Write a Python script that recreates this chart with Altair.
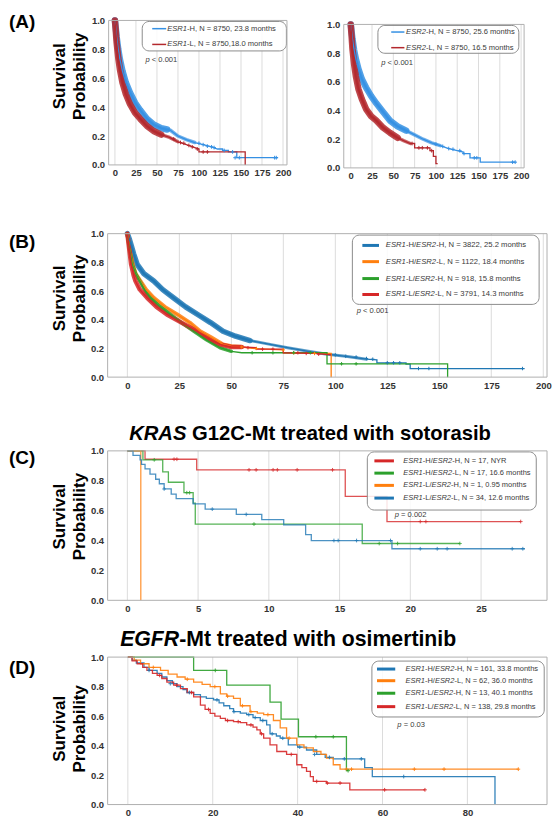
import re
import altair as alt
import pandas as pd

FONT = "Liberation Sans"

# ================= DATA =================
# (A) left : ESR1-H / ESR1-L   (months, survival probability)
A1_H_t = [0, 1, 2, 4, 6, 9, 13, 18, 24, 30, 38, 46, 55, 62, 66, 75, 85, 95, 105, 115, 122, 128, 128, 135, 135, 145, 145, 194]
A1_H_s = [1.0, 0.95, 0.89, 0.80, 0.73, 0.65, 0.57, 0.50, 0.43, 0.38, 0.32, 0.28, 0.255, 0.245, 0.24, 0.20, 0.175, 0.155, 0.14, 0.125, 0.11, 0.11, 0.10, 0.10, 0.09, 0.09, 0.05, 0.05]
A1_L_t = [0, 1, 2, 4, 6, 9, 13, 18, 24, 30, 38, 46, 55, 65, 75, 85, 95, 100, 100, 155, 155]
A1_L_s = [1.0, 0.93, 0.85, 0.74, 0.66, 0.57, 0.49, 0.42, 0.36, 0.32, 0.27, 0.235, 0.21, 0.19, 0.16, 0.14, 0.12, 0.11, 0.09, 0.09, 0.0]
A1_H_ct = [100, 105, 110, 115, 118, 130, 140, 143, 148, 190, 192]
A1_H_cs = [0.15, 0.14, 0.13, 0.125, 0.12, 0.10, 0.09, 0.05, 0.05, 0.05, 0.05]
A1_L_ct = [70, 78, 82, 88, 92, 98, 105, 110]
A1_L_cs = [0.18, 0.155, 0.15, 0.135, 0.125, 0.11, 0.09, 0.09]
A1_labels = ["ESR1-H, N = 8750, 23.8 months", "ESR1-L, N = 8750,18.0 months"]
A1_p = "p < 0.001"

# (A) right : ESR2-H / ESR2-L
A2_H_t = [0, 1, 2, 4, 6, 9, 13, 18, 24, 30, 38, 46, 55, 65, 75, 85, 95, 105, 115, 125, 132, 132, 140, 140, 152, 152, 193]
A2_H_s = [1.0, 0.95, 0.90, 0.82, 0.76, 0.69, 0.62, 0.56, 0.50, 0.45, 0.39, 0.33, 0.29, 0.26, 0.23, 0.20, 0.175, 0.155, 0.135, 0.12, 0.11, 0.10, 0.10, 0.07, 0.07, 0.04, 0.04]
A2_L_t = [0, 1, 2, 4, 6, 9, 13, 18, 24, 30, 38, 46, 55, 62, 70, 75, 75, 85, 93, 93, 97, 97, 100, 100, 102]
A2_L_s = [1.0, 0.92, 0.83, 0.72, 0.64, 0.55, 0.48, 0.41, 0.36, 0.33, 0.28, 0.245, 0.21, 0.19, 0.17, 0.17, 0.14, 0.14, 0.14, 0.12, 0.12, 0.08, 0.08, 0.03, 0.03]
A2_H_ct = [100, 108, 115, 120, 128, 133, 145, 148, 190, 193]
A2_H_cs = [0.165, 0.15, 0.135, 0.13, 0.12, 0.10, 0.07, 0.07, 0.04, 0.04]
A2_L_ct = [72, 80, 84, 90, 95]
A2_L_cs = [0.17, 0.14, 0.14, 0.14, 0.12]
A2_labels = ["ESR2-H, N = 8750, 25.6 months", "ESR2-L, N = 8750, 16.5 months"]
A2_p = "p < 0.001"

# (B) ESR1 / ESR2 combinations
B_HH_t = [0, 1, 2, 3, 4.7, 8, 12.7, 17, 22, 28, 34, 40, 46, 52, 59, 68, 77, 87, 96, 105, 115, 120, 120, 134, 134, 136, 136, 191]
B_HH_s = [1.0, 0.96, 0.91, 0.86, 0.786, 0.72, 0.67, 0.61, 0.555, 0.49, 0.435, 0.38, 0.32, 0.285, 0.255, 0.23, 0.205, 0.18, 0.16, 0.145, 0.125, 0.12, 0.10, 0.10, 0.09, 0.09, 0.06, 0.06]
B_HL_t = [0, 1, 2.6, 4, 6.3, 9, 12.7, 18, 24, 30, 35, 40, 46, 50, 55, 60, 75, 75, 98, 98]
B_HL_s = [1.0, 0.9, 0.786, 0.72, 0.67, 0.61, 0.553, 0.49, 0.437, 0.38, 0.32, 0.28, 0.228, 0.215, 0.21, 0.20, 0.19, 0.17, 0.165, 0.0]
B_LH_t = [0, 1, 2.4, 4, 6, 9, 11, 15, 20.7, 26, 32, 38, 44.6, 50, 55, 96, 96, 154, 154]
B_LH_s = [1.0, 0.9, 0.786, 0.72, 0.67, 0.59, 0.553, 0.50, 0.437, 0.38, 0.32, 0.26, 0.205, 0.18, 0.17, 0.17, 0.093, 0.093, 0.0]
B_LL_t = [0, 1, 1.8, 3, 3.9, 6, 9.5, 14, 19, 26, 33.5, 40, 44.6, 50, 55, 62, 62, 75, 75, 90, 98]
B_LL_s = [1.0, 0.88, 0.786, 0.71, 0.67, 0.61, 0.553, 0.49, 0.437, 0.38, 0.32, 0.26, 0.228, 0.21, 0.21, 0.205, 0.195, 0.195, 0.17, 0.165, 0.155]
B_HH_ct = [100, 105, 110, 115, 118, 125, 128, 131, 140, 145, 190]
B_HH_cs = [0.155, 0.145, 0.14, 0.13, 0.125, 0.10, 0.10, 0.10, 0.06, 0.06, 0.06]
B_HL_ct = [55, 62, 75, 80, 90]
B_HL_cs = [0.21, 0.20, 0.19, 0.17, 0.165]
B_LH_ct = [60, 70, 80, 88, 103, 110]
B_LH_cs = [0.17, 0.17, 0.17, 0.17, 0.093, 0.093]
B_LL_ct = [58, 65, 70, 82, 86, 92]
B_LL_cs = [0.205, 0.195, 0.195, 0.17, 0.165, 0.16]
B_labels = ["ESR1-H/ESR2-H, N = 3822, 25.2 months", "ESR1-H/ESR2-L, N = 1122, 18.4 months",
            "ESR1-L/ESR2-H, N = 918, 15.8 months", "ESR1-L/ESR2-L, N = 3791, 14.3 months"]
B_p = "p < 0.001"

# (C) KRAS G12C-Mt treated with sotorasib
C_HH_t = [0, 1.25, 4.9, 15.4, 18.35, 27.8]
C_HH_s = [1.0, 0.944, 0.873, 0.695, 0.527, 0.527]
C_HL_t = [0, 1.1, 2.5, 2.9, 4.0, 4.65, 4.8, 16.6, 23.5]
C_HL_s = [1.0, 0.94, 0.86, 0.79, 0.72, 0.65, 0.51, 0.38, 0.38]
C_LH_t = [0, 0.95]
C_LH_s = [1.0, 0.0]
C_LL_t = [0, 0.4, 0.9, 1.0, 1.25, 1.6, 2.0, 2.26, 2.6, 3.1, 3.45, 4.65, 5.5, 7.7, 9.5, 11.05, 12.6, 13.0, 18.7, 28.1]
C_LL_s = [1.0, 0.97, 0.94, 0.91, 0.88, 0.845, 0.81, 0.78, 0.745, 0.71, 0.68, 0.645, 0.61, 0.575, 0.54, 0.505, 0.44, 0.40, 0.345, 0.345]
C_HH_ct = [3.3, 3.5, 8.6, 9.1, 10.3, 10.6, 12.0, 14.5, 20.7, 21.1, 27.8]
C_HH_cs = [0.944, 0.944, 0.873, 0.873, 0.873, 0.873, 0.873, 0.873, 0.527, 0.527, 0.527]
C_HL_ct = [1.9, 4.2, 4.4, 8.95, 17.8, 19.1, 23.5]
C_HL_cs = [0.94, 0.72, 0.72, 0.51, 0.38, 0.38, 0.38]
C_LL_ct = [2.6, 6.0, 8.4, 14.6, 14.9, 16.2, 18.6, 20.7, 21.9, 22.6, 27.2, 27.95]
C_LL_cs = [0.745, 0.61, 0.575, 0.40, 0.40, 0.40, 0.40, 0.345, 0.345, 0.345, 0.345, 0.345]
C_labels = ["ESR1-H/ESR2-H, N = 17, NYR", "ESR1-H/ESR2-L, N = 17, 16.6 months",
            "ESR1-L/ESR2-H, N = 1, 0.95 months", "ESR1-L/ESR2-L, N = 34, 12.6 months"]
C_p = "p = 0.002"
C_title = "KRAS G12C-Mt treated with sotorasib"

# (D) EGFR-Mt treated with osimertinib
D_HH_t = [0, 1, 2, 3.8, 5, 6.9, 8, 9.2, 10.5, 11.6, 13, 13.9, 15.5, 17.1, 18.5, 20.2, 21.5, 22.6, 24, 24.9, 26.5, 28, 29.5, 31.2, 32.7, 33.5, 35, 35.9, 37.8, 40, 42.1, 44.5, 46.5, 48.4, 55.8, 57.6, 86.5]
D_HH_s = [1.0, 0.98, 0.96, 0.93, 0.91, 0.89, 0.865, 0.84, 0.82, 0.80, 0.78, 0.76, 0.745, 0.73, 0.72, 0.71, 0.69, 0.67, 0.65, 0.63, 0.62, 0.61, 0.59, 0.57, 0.54, 0.48, 0.465, 0.45, 0.405, 0.39, 0.37, 0.34, 0.32, 0.31, 0.25, 0.19, 0.0]
D_HL_t = [0, 1.5, 3, 5, 7.7, 9.5, 11.6, 13.5, 15.5, 17.5, 19.4, 21.8, 23.3, 24.9, 26.5, 28.8, 30.5, 32, 34.3, 35.9, 37.4, 39.8, 41.5, 43.7, 45.5, 46.8, 48.4, 50, 92]
D_HL_s = [1.0, 0.98, 0.955, 0.93, 0.91, 0.885, 0.865, 0.85, 0.83, 0.815, 0.80, 0.75, 0.735, 0.72, 0.67, 0.63, 0.62, 0.61, 0.57, 0.52, 0.45, 0.405, 0.385, 0.36, 0.34, 0.315, 0.27, 0.24, 0.24]
D_LH_t = [0, 15.5, 23.3, 33.5, 36.1, 40.2, 51.5, 51.9]
D_LH_s = [1.0, 0.91, 0.81, 0.695, 0.58, 0.46, 0.23, 0.23]
D_LL_t = [0, 1, 2.2, 3.5, 4.5, 5.8, 6.9, 8, 9.2, 10.8, 12.4, 14, 15.5, 17.1, 18.2, 19.4, 20.5, 21.8, 23, 24.9, 26.5, 28, 29.5, 30.4, 31.2, 32, 33.5, 35.1, 37.4, 39.8, 41, 42.1, 43, 43.7, 46.8, 52.3, 70]
D_LL_s = [1.0, 0.975, 0.955, 0.93, 0.91, 0.89, 0.876, 0.855, 0.83, 0.81, 0.786, 0.76, 0.73, 0.674, 0.645, 0.618, 0.60, 0.584, 0.57, 0.562, 0.555, 0.54, 0.525, 0.506, 0.48, 0.45, 0.405, 0.36, 0.34, 0.27, 0.25, 0.225, 0.19, 0.157, 0.146, 0.10, 0.10]
D_HH_ct = [5, 10, 14.5, 21, 25, 28.5, 30, 31.8, 34, 36.5, 40.5, 44, 47.5, 51, 55, 65]
D_HH_cs = [0.91, 0.82, 0.76, 0.71, 0.63, 0.61, 0.59, 0.57, 0.48, 0.45, 0.39, 0.34, 0.32, 0.31, 0.31, 0.19]
D_HL_ct = [6, 14, 20.5, 23.5, 27, 29, 33, 38, 51.5, 52.7, 67.5, 74.5, 92]
D_HL_cs = [0.93, 0.85, 0.80, 0.735, 0.67, 0.63, 0.61, 0.45, 0.24, 0.24, 0.24, 0.24, 0.24]
D_LH_ct = [20.6, 44.3, 48.4, 51.9]
D_LH_cs = [0.91, 0.46, 0.46, 0.23]
D_LL_ct = [7.5, 11.5, 15, 19, 23.5, 26, 29, 31.5, 38.5, 44.5, 47, 50, 60.5, 70]
D_LL_cs = [0.876, 0.81, 0.76, 0.645, 0.57, 0.562, 0.54, 0.48, 0.34, 0.157, 0.146, 0.146, 0.10, 0.10]
D_labels = ["ESR1-H/ESR2-H, N = 161, 33.8 months", "ESR1-H/ESR2-L, N = 62, 36.0 months",
            "ESR1-L/ESR2-H, N = 13, 40.1 months", "ESR1-L/ESR2-L, N = 138, 29.8 months"]
D_p = "p = 0.03"
D_title = "EGFR-Mt treated with osimertinib"

Y_TITLE = "Survival\nProbability"
PANEL_TAGS = ["(A)", "(B)", "(C)", "(D)"]
AX_TICKS_200 = [0, 25, 50, 75, 100, 125, 150, 175, 200]
C_TICKS = [0, 5, 10, 15, 20, 25]
D_TICKS = [0, 20, 40, 60, 80]
Y_TICKS = [0.0, 0.2, 0.4, 0.6, 0.8, 1.0]

# ================= STYLE =================
COLORS = {
    "A1_H": "#3590e3", "A1_L": "#b3282d",
    "A2_H": "#3590e3", "A2_L": "#b3282d",
    "B_HH": "#1f77b4", "B_HL": "#ff7f0e", "B_LH": "#2ca02c", "B_LL": "#d62728",
    "C_HH": "#d62728", "C_HL": "#2ca02c", "C_LH": "#ff7f0e", "C_LL": "#1f77b4",
    "D_HH": "#1f77b4", "D_HL": "#ff7f0e", "D_LH": "#2ca02c", "D_LL": "#d62728",
}
CSCALE = alt.Scale(domain=list(COLORS.keys()), range=list(COLORS.values()))

_REG = {' ': 278, '(': 333, ')': 333, ',': 278, '-': 333, '.': 278, '/': 278, '<': 584, '=': 584,
        'A': 667, 'C': 722, 'E': 667, 'F': 611, 'G': 778, 'H': 722, 'K': 667, 'L': 556, 'M': 833,
        'N': 722, 'R': 722, 'S': 667, 'Y': 667, 'a': 556, 'b': 556, 'd': 556, 'e': 556, 'h': 556,
        'i': 222, 'm': 833, 'n': 556, 'o': 556, 'p': 556, 'r': 333, 's': 500, 't': 278, 'w': 722}
_BOLD = {' ': 278, '(': 333, ')': 333, ',': 278, '-': 333, '.': 278, '/': 278, '<': 584, '=': 584,
         'A': 722, 'C': 722, 'E': 667, 'F': 611, 'G': 778, 'H': 722, 'K': 722, 'L': 611, 'M': 833,
         'N': 722, 'R': 722, 'S': 667, 'Y': 667, 'a': 556, 'b': 611, 'd': 611, 'e': 556, 'h': 611,
         'i': 278, 'm': 889, 'n': 611, 'o': 611, 'p': 611, 'r': 389, 's': 556, 't': 333, 'w': 778}


def tw(s, size, bold=False):
    tab = _BOLD if bold else _REG
    return sum(tab.get(c, 556) for c in s) * size / 1000.0


ITAL = re.compile(r"(ESR\d|KRAS|EGFR|^p(?= ))")


def segments(text):
    out, pos = [], 0
    for m in ITAL.finditer(text):
        if m.start() > pos:
            out.append((text[pos:m.start()], False))
        out.append((m.group(0), True))
        pos = m.end()
    if pos < len(text):
        out.append((text[pos:], False))
    return out


class Panel:
    """Page-pixel geometry of one plot; gx/gy = group origin, f* = frame."""
    def __init__(self, gx, gy, H, fx0, fx1, fy0, fy1, t0, t1, ticks):
        self.gx, self.gy, self.H = gx, gy, H
        self.fx0, self.fx1, self.fy0, self.fy1 = fx0, fx1, fy0, fy1
        self.t0, self.t1, self.ticks = t0, t1, ticks

    def t_of(self, px):
        return self.t0 + (px - self.fx0) * (self.t1 - self.t0) / (self.fx1 - self.fx0)

    def px_of(self, t):
        return self.fx0 + (t - self.t0) * (self.fx1 - self.fx0) / (self.t1 - self.t0)

    def s_of(self, py):
        return (self.fy1 - py) / (self.fy1 - self.fy0)

    def enc(self):
        xs = alt.Scale(domain=[self.t0, self.t1], range=[self.fx0 - self.gx, self.fx1 - self.gx], nice=False, zero=False)
        ys = alt.Scale(domain=[0, 1], range=[self.fy1 - self.gy, self.fy0 - self.gy], nice=False, zero=False)
        common = dict(grid=False, ticks=False, domain=False, title=None, labelFont=FONT, labelFontWeight="bold",
                      labelFontSize=9.5, labelColor="#333333", labelFlush=False, labelOverlap=False)
        xa = alt.Axis(values=self.ticks, format="d", orient="bottom", labelPadding=3,
                      offset=self.fy1 - (self.gy + self.H), **common)
        ya = alt.Axis(values=Y_TICKS, format=".1f", orient="left", labelPadding=4,
                      offset=-(self.fx0 - self.gx), **common)
        return (lambda f="t": alt.X(f"{f}:Q", scale=xs, axis=xa)), (lambda f="s": alt.Y(f"{f}:Q", scale=ys, axis=ya))


def text_layers(P, X, Y, rows, size, bold, color):
    df = pd.DataFrame(rows)
    out = []
    for it in (False, True):
        sub = df[df["it"] == it]
        if len(sub):
            kw = dict(align="left", baseline="middle", font=FONT, fontSize=size, color=color,
                      fontWeight="bold" if bold else "normal")
            if it:
                kw["fontStyle"] = "italic"
            out.append(alt.Chart(sub[["t", "s", "txt"]]).mark_text(**kw).encode(x=X(), y=Y(), text="txt:N"))
    return out


def seg_rows(P, text, px0, s, size, bold):
    rows, x = [], px0
    for seg, it in segments(text):
        lead = len(seg) - len(seg.lstrip(" "))
        body = seg.strip(" ")
        if body:
            rows.append({"t": P.t_of(x + tw(seg[:lead], size, bold)), "s": s, "txt": body, "it": it})
        x += tw(seg, size, bold)
    return rows


def build_panel(P, cfg):
    X, Y = P.enc()
    L = []
    # vertical grid lines at the tick values
    g = pd.DataFrame({"t": [v for v in P.ticks if P.t0 <= v <= P.t1]})
    g["s"], g["s2"] = 0.0, 1.0
    L.append(alt.Chart(g).mark_rule(color="#dcdcdc", strokeWidth=1).encode(x=X(), y=Y(), y2=alt.Y2("s2")))
    # curves
    frames = []
    for key, t, s in cfg["series"]:
        frames.append(pd.DataFrame({"key": key, "t": t, "s": s, "i": list(range(len(t)))}))
    cur = pd.concat(frames, ignore_index=True)
    col = alt.Color("key:N", scale=CSCALE, legend=None)
    for key, tend, w, op in cfg.get("bands", []):
        b = cur[(cur["key"] == key) & (cur["t"] <= tend)]
        L.append(alt.Chart(b).mark_line(strokeWidth=w, opacity=op, strokeJoin="round", strokeCap="round")
                 .encode(x=X(), y=Y(), color=col, order=alt.Order("i:Q")))
    lk = dict(strokeWidth=cfg["lw"], opacity=cfg["lop"])
    if cfg["step"]:
        lk["interpolate"] = "step-after"
    L.append(alt.Chart(cur).mark_line(**lk).encode(x=X(), y=Y(), color=col, order=alt.Order("i:Q")))
    cf = pd.concat([pd.DataFrame({"key": k, "t": ct, "s": cs}) for k, ct, cs in cfg["censors"]], ignore_index=True)
    L.append(alt.Chart(cf).mark_point(shape="M-1,0L1,0M0,-1L0,1", filled=False, size=cfg["csize"],
                                      strokeWidth=1, opacity=cfg["lop"]).encode(x=X(), y=Y(), color=col))
    # legend
    lg = cfg["legend"]
    bx = pd.DataFrame({"t": [lg["box"][0]], "t2": [lg["box"][1]], "s": [lg["box"][2]], "s2": [lg["box"][3]]})
    L.append(alt.Chart(bx).mark_rect(fill="white", fillOpacity=0.85, stroke="#8c8c8c", strokeWidth=1,
                                     cornerRadius=7).encode(x=X(), x2=alt.X2("t2"), y=Y(), y2=alt.Y2("s2")))
    keys = [k for k, _, _ in cfg["series"]]
    lr = pd.DataFrame({"key": keys, "t": lg["line"][0], "t2": lg["line"][1], "s": lg["rows"]})
    L.append(alt.Chart(lr).mark_rule(strokeWidth=lg["lw"]).encode(x=X(), x2=alt.X2("t2"), y=Y(), color=col))
    rows = []
    for lab, ys in zip(cfg["labels"], lg["rows"]):
        rows += seg_rows(P, lab, P.px_of(lg["text"]), ys, lg["size"], False)
    L += text_layers(P, X, Y, rows, lg["size"], False, "#3a3a3a")
    # p value
    pt, ps = cfg["ppos"]
    L += text_layers(P, X, Y, seg_rows(P, cfg["p"], P.px_of(pt), ps, 7.6, False), 7.6, False, "#3a3a3a")
    # panel tag
    if cfg.get("tag"):
        tx, ty = cfg["tag_pos"]
        td = pd.DataFrame({"t": [P.t_of(tx)], "s": [P.s_of(ty)], "txt": [cfg["tag"]]})
        L.append(alt.Chart(td).mark_text(align="left", baseline="middle", font=FONT, fontSize=19,
                                         fontWeight="bold", color="black").encode(x=X(), y=Y(), text="txt:N"))
    # y title
    if cfg.get("ytitle_y") is not None:
        yd = pd.DataFrame({"t": [P.t_of(59)], "s": [P.s_of(cfg["ytitle_y"])], "txt": [Y_TITLE]})
        L.append(alt.Chart(yd).mark_text(angle=270, align="center", baseline="middle", lineBreak="\n",
                                         lineHeight=20, font=FONT, fontSize=17, fontWeight="bold",
                                         color="black").encode(x=X(), y=Y(), text="txt:N"))
    # panel title
    if cfg.get("title"):
        tx, ty, tsz = cfg["title_pos"]
        L += text_layers(P, X, Y, seg_rows(P, cfg["title"], tx, P.s_of(ty), tsz, True), tsz, True, "black")
    # anchor for page placement
    if cfg.get("anchor"):
        ad = pd.DataFrame({"t": [P.t_of(8)], "s": [P.s_of(8)]})
        L.append(alt.Chart(ad).mark_point(filled=True, size=1, opacity=0).encode(x=X(), y=Y()))
    # frame
    fr = pd.DataFrame({"t": [P.t0], "t2": [P.t1], "s": [0.0], "s2": [1.0]})
    L.append(alt.Chart(fr).mark_rect(fillOpacity=0, stroke="#b0b0b0", strokeWidth=1)
             .encode(x=X(), x2=alt.X2("t2"), y=Y(), y2=alt.Y2("s2")))
    return alt.layer(*L)


SP = 50
PA1 = Panel(107, 18, 148, 108, 287, 18, 163, -7.47, 204.7, AX_TICKS_200)
PA2 = Panel(107, 18, 148, 344, 525, 22, 166, -8.19, 203.5, AX_TICKS_200)
PB = Panel(107, 216, 160, 107, 548, 232, 376, -9.49, 201.8, AX_TICKS_200)
PC = Panel(107, 426, 174, 107, 548, 450, 600, -1.394, 29.66, C_TICKS)
PD = Panel(107, 650, 155, 107, 548, 657, 805, -4.76, 98.76, D_TICKS)

a1 = build_panel(PA1, dict(
    series=[("A1_H", A1_H_t, A1_H_s), ("A1_L", A1_L_t, A1_L_s)],
    bands=[("A1_H", 100, 3.5, 0.7), ("A1_H", 62, 6.5, 0.85), ("A1_L", 75, 3.5, 0.7), ("A1_L", 55, 6.5, 0.85)],
    step=False, lw=1.3, lop=1.0,
    censors=[("A1_H", A1_H_ct, A1_H_cs), ("A1_L", A1_L_ct, A1_L_cs)], csize=14,
    legend=dict(box=(32.5, 204.0, 0.789, 0.993), rows=[0.943, 0.834], line=(44.4, 61.0), text=62.2, size=7.6, lw=1.5),
    labels=A1_labels, p=A1_p, ppos=(36.4, 0.724), tag=PANEL_TAGS[0], tag_pos=(8, 20), ytitle_y=74, anchor=True))
a2 = build_panel(PA2, dict(
    series=[("A2_H", A2_H_t, A2_H_s), ("A2_L", A2_L_t, A2_L_s)],
    bands=[("A2_H", 110, 3.5, 0.7), ("A2_H", 66, 6.5, 0.85), ("A2_L", 70, 3.5, 0.7), ("A2_L", 55, 6.5, 0.85)],
    step=False, lw=1.3, lop=1.0,
    censors=[("A2_H", A2_H_ct, A2_H_cs), ("A2_L", A2_L_ct, A2_L_cs)], csize=14,
    legend=dict(box=(31.9, 197.3, 0.799, 0.993), rows=[0.947, 0.838], line=(47.5, 63.0), text=65.0, size=7.6, lw=1.5),
    labels=A2_labels, p=A2_p, ppos=(35.8, 0.734)))
rowA = alt.layer(a1, a2).resolve_scale(x="independent", y="independent").properties(width=441, height=148)

rowB = build_panel(PB, dict(
    series=[("B_HH", B_HH_t, B_HH_s), ("B_HL", B_HL_t, B_HL_s), ("B_LH", B_LH_t, B_LH_s), ("B_LL", B_LL_t, B_LL_s)],
    bands=[("B_HH", 115, 3, 0.7), ("B_HH", 60, 5.5, 0.85), ("B_HL", 55, 4, 0.85), ("B_LH", 50, 3.5, 0.85),
           ("B_LL", 55, 4.5, 0.85)],
    step=False, lw=1.3, lop=1.0,
    censors=[("B_HH", B_HH_ct, B_HH_cs), ("B_HL", B_HL_ct, B_HL_cs), ("B_LH", B_LH_ct, B_LH_cs), ("B_LL", B_LL_ct, B_LL_cs)],
    csize=12,
    legend=dict(box=(108.2, 198.0, 0.507, 0.99), rows=[0.918, 0.805, 0.687, 0.576], line=(113, 121), text=124.3, size=7.7, lw=3),
    labels=B_labels, p=B_p, ppos=(110.3, 0.46), tag=PANEL_TAGS[1], tag_pos=(8, 240), ytitle_y=297)).properties(width=441, height=160)

rowC = build_panel(PC, dict(
    series=[("C_HH", C_HH_t, C_HH_s), ("C_HL", C_HL_t, C_HL_s), ("C_LH", C_LH_t, C_LH_s), ("C_LL", C_LL_t, C_LL_s)],
    step=True, lw=1.3, lop=0.8,
    censors=[("C_HH", C_HH_ct, C_HH_cs), ("C_HL", C_HL_ct, C_HL_cs), ("C_LL", C_LL_ct, C_LL_cs)], csize=14,
    legend=dict(box=(16.96, 28.9, 0.604, 0.993), rows=[0.933, 0.851, 0.769, 0.684], line=(17.46, 18.84), text=19.5, size=7.5, lw=3),
    labels=C_labels, p=C_p, ppos=(18.9, 0.571), tag=PANEL_TAGS[2], tag_pos=(8, 457), ytitle_y=516,
    title=C_title, title_pos=(128.6, 433, 20.3))).properties(width=441, height=174)

rowD = build_panel(PD, dict(
    series=[("D_HH", D_HH_t, D_HH_s), ("D_HL", D_HL_t, D_HL_s), ("D_LH", D_LH_t, D_LH_s), ("D_LL", D_LL_t, D_LL_s)],
    step=True, lw=1.3, lop=0.9,
    censors=[("D_HH", D_HH_ct, D_HH_cs), ("D_HL", D_HL_ct, D_HL_cs), ("D_LH", D_LH_ct, D_LH_cs), ("D_LL", D_LL_ct, D_LL_cs)],
    csize=14,
    legend=dict(box=(57.5, 98.1, 0.594, 0.973), rows=[0.919, 0.840, 0.755, 0.664], line=(58.7, 63.0), text=65.4, size=7.5, lw=3),
    labels=D_labels, p=D_p, ppos=(63.5, 0.54), tag=PANEL_TAGS[3], tag_pos=(8, 668), ytitle_y=729,
    title=D_title, title_pos=(119.6, 639.5, 21.3))).properties(width=441, height=155)

chart = alt.vconcat(rowA, rowB, rowC, rowD, spacing=SP, bounds="flush").properties(
    padding={"left": 0, "top": 0, "right": 0, "bottom": 0}
).configure_view(stroke=None)

chart.save("out.html", embed_options={"renderer": "svg", "actions": False})
